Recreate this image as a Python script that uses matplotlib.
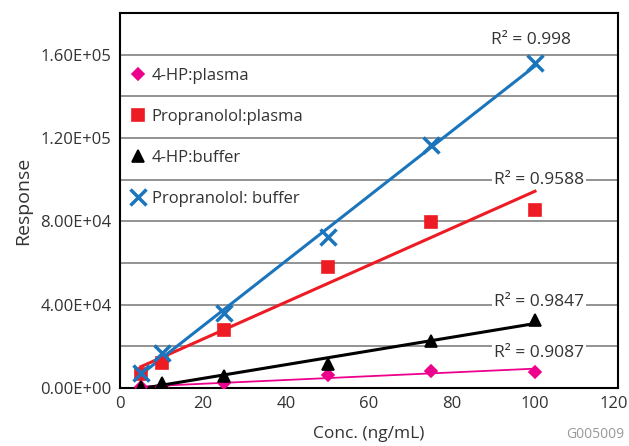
import numpy as np
import matplotlib
matplotlib.use("Agg")
import matplotlib.pyplot as plt
import matplotlib.transforms as mtransforms
from matplotlib.ticker import FuncFormatter

plt.rcParams['font.family'] = ['Open Sans', 'DejaVu Sans']

conc = [5, 10, 25, 50, 75, 100]
hp_plasma = [300, 500, 2400, 6200, 8200, 7800]
prop_plasma = [6700, 12000, 27800, 58000, 79700, 85400]
hp_buffer = [700, 2400, 5800, 11500, 22500, 32600]
prop_buffer = [7200, 16800, 36000, 72500, 116500, 156000]

labels = ['4-HP:plasma', 'Propranolol:plasma', '4-HP:buffer', 'Propranolol: buffer']
r2_text = ['R\u00b2 = 0.9087', 'R\u00b2 = 0.9588', 'R\u00b2 = 0.9847', 'R\u00b2 = 0.998']
r2_pos = [(101, 16800), (101, 99800), (101, 41300), (99, 167000)]

fig = plt.figure(figsize=(6.29, 4.46), dpi=100)
ax = fig.add_axes([0.1908, 0.130, 0.7917, 0.841])

series = [
    (hp_plasma, '#ec008c', 'D', 6, 1.3, 1.2),
    (prop_plasma, '#ed1c24', 's', 8, 2.2, 1.2),
    (hp_buffer, 'black', '^', 8, 2.2, 1.2),
    (prop_buffer, '#1b75bc', 'x', 11, 2.2, 2.5),
]

x = np.array(conc)
handles = []
for (vals, col, mk, ms, lw, mew), lab in zip(series, labels):
    k, b = np.polyfit(x, vals, 1)
    xx = np.array([x.min(), x.max()])
    ax.plot(xx, k * xx + b, color=col, lw=lw, zorder=3)
    h, = ax.plot(x, vals, ls='none', marker=mk, ms=ms, color=col,
                 mew=mew, zorder=4, label=lab)
    handles.append(h)

for t, (px, py) in zip(r2_text, r2_pos):
    ax.text(px, py, t, ha='center', va='center', fontsize=12.5, color='#333333',
            bbox=dict(facecolor='white', edgecolor='none', pad=1.5), zorder=2)

ax.set_xlim(0, 120)
ax.set_ylim(0, 180000)
ax.set_xticks(range(0, 121, 20))
ax.set_yticks(range(0, 180001, 20000))
ax.yaxis.set_major_formatter(FuncFormatter(
    lambda v, p: ('%.2E' % v) if v % 40000 == 0 else ''))
ax.grid(axis='y', color='#808080', lw=1.2, zorder=1)
ax.tick_params(length=0, labelsize=12, labelcolor='#333333', pad=6)
for s in ax.spines.values():
    s.set_color('black')
    s.set_linewidth(1.5)

# keep the last x tick label inside the canvas
last = ax.get_xticklabels()[-1]
last.set_transform(last.get_transform() +
                   mtransforms.ScaledTranslation(-4 / 100, 0, fig.dpi_scale_trans))

ax.set_xlabel('Conc. (ng/mL)', fontsize=12.5, color='#333333', labelpad=10)
ax.set_ylabel('Response', fontsize=14, color='#333333', labelpad=6)

leg = ax.legend(handles=handles, loc='upper left', bbox_to_anchor=(0.0, 0.885),
                frameon=False, fontsize=12, labelspacing=1.5, handlelength=0.8,
                handletextpad=0.4, borderaxespad=0.3, labelcolor='#333333')

fig.text(0.993, 0.025, 'G005009', ha='right', va='center', fontsize=10, color='#999999')

fig.savefig('out.png', dpi=100)
